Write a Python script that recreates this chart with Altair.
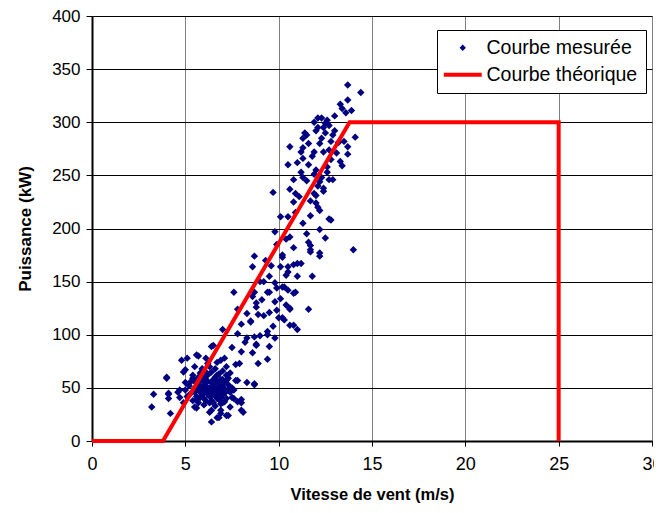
import altair as alt
import pandas as pd

# Measured points: wind speed (m/s), power (kW)
wind = [
    13.7, 14.4, 13.7, 13.3, 13.4, 13.9, 13.6, 13.0, 12.1, 12.3, 12.6, 12.5, 12.7, 12.1, 12.0, 11.4, 12.5, 11.5, 12.9, 14.1,
    11.3, 12.3, 13.5, 12.8, 13.2, 12.2, 10.6, 11.3, 13.7, 12.7, 11.2, 11.9, 13.1, 13.7, 11.3, 13.3, 13.4, 10.5, 11.6, 12.0,
    11.2, 12.6, 11.9, 12.3, 11.3, 10.8, 12.7, 12.9, 12.2, 12.4, 10.6, 9.7, 10.9, 11.9, 12.4, 12.0, 10.8, 11.7, 12.0, 12.1,
    12.2, 11.7, 10.1, 10.5, 12.7, 12.8,
    11.0, 11.8, 12.4, 12.8, 11.5, 12.1, 11.1, 12.6, 13.0, 12.4, 11.9, 11.6, 10.9, 11.3, 9.9, 10.4,
    9.8, 10.6, 11.5, 12.2, 12.5, 11.6, 10.8, 11.7, 11.7, 12.2, 14.0, 8.7, 10.2, 11.7, 12.2, 9.3, 11.0, 10.2, 8.6, 10.1,
    10.5, 10.8, 11.2, 10.5, 10.4, 11.0, 11.8, 9.5, 9.2, 9.8, 9.9, 10.2, 10.3, 10.5, 9.5, 7.6, 8.7, 9.4, 10.8, 10.9,
    8.6, 9.1, 10.1, 9.8, 8.8, 8.8, 7.8, 9.5, 9.9, 10.6, 11.6, 10.6, 8.9, 10.0, 10.2, 10.3, 8.5, 8.5, 10.6, 10.8,
    11.0, 7.0, 7.8, 9.4, 9.4, 8.3, 8.7, 9.0, 9.8, 8.2, 8.8, 9.5, 6.5, 7.5, 8.8, 8.0, 8.6, 9.4, 8.9, 6.4,
    8.0, 9.2, 9.7, 10.4, 8.3, 9.0, 9.6,
    4.8, 5.1, 5.7, 5.6, 6.1, 6.2, 6.7, 7.1, 6.9, 5.5, 5.0, 4.9, 7.2, 7.7, 7.9, 4.0, 4.0, 5.3, 5.7, 7.3,
    7.7, 7.8, 8.3, 8.7, 8.7, 5.0, 3.3, 4.1, 4.1, 4.6, 4.7, 4.7, 4.1, 4.9, 5.5, 5.6, 3.2, 4.2, 6.3, 6.4,
    6.9, 6.9, 7.2, 7.3, 6.4, 6.8, 6.7, 7.4, 7.8, 8.0, 8.1, 8.0, 7.5, 7.6, 8.0, 7.6,
    5.4, 5.6, 5.8, 6.0, 6.2, 6.4, 6.6, 6.8, 7.0, 7.2, 5.5, 5.7, 5.9, 6.1, 6.3, 6.5, 6.7, 6.9, 7.1, 7.3,
    5.3, 5.6, 5.8, 6.0, 6.2, 6.4, 6.6, 6.8, 7.0, 7.2, 5.4, 5.7, 6.0, 6.3, 6.6, 6.9, 7.1, 5.9, 6.5, 6.1,
    5.2, 5.0, 5.1, 6.7, 7.4, 7.0, 6.3, 5.9, 6.6, 7.4, 6.2, 6.8, 6.4, 5.8, 7.5, 6.0, 6.6, 7.1, 5.5, 6.9,
    5.5, 5.7, 5.9, 6.1, 6.3, 6.5, 6.7, 6.9, 7.1, 7.3, 5.6, 5.8, 6.0, 6.2, 6.4, 6.6, 6.8, 7.0, 7.2, 6.1,
    6.5, 6.9, 6.3, 5.9, 6.7, 6.1, 5.4, 7.0, 6.4, 6.8,
]
power = [
    335, 328, 321, 317, 313, 311, 309, 306, 304, 304, 302, 299, 297, 295, 292, 290, 290, 288, 288, 286,
    285, 285, 282, 282, 281, 280, 277, 276, 277, 274, 272, 272, 271, 270, 266, 263, 259, 260, 260, 255,
    253, 253, 251, 248, 248, 246, 246, 246, 244, 238, 237, 234, 233, 233, 235, 231, 225, 226, 224, 220,
    217, 212, 211, 211, 209, 208,
    262, 268, 272, 265, 245, 240, 230, 258, 292, 295, 300, 280, 215, 205, 185, 190,
    197, 192, 195, 199, 191, 187, 182, 184, 180, 177, 180, 174, 173, 178, 174, 170, 167, 175, 164, 164,
    164, 166, 167, 159, 156, 155, 155, 155, 150, 149, 144, 145, 145, 142, 140, 140, 140, 140, 139, 140,
    136, 133, 134, 131, 130, 126, 124, 121, 123, 124, 124, 125, 119, 116, 116, 114, 112, 113, 109, 109,
    105, 105, 101, 103, 100, 97, 98, 99, 97, 93, 91, 89, 90, 88, 90, 84, 83, 77, 73, 89,
    110, 118, 108, 128, 120, 150, 165,
    76, 78, 80, 81, 78, 73, 74, 78, 76, 70, 67, 65, 70, 72, 73, 60, 59, 56, 60, 59,
    57, 57, 55, 53, 54, 55, 44, 45, 44, 46, 41, 48, 40, 36, 32, 31, 32, 26, 27, 29,
    26, 29, 24, 24, 18, 22, 22, 32, 37, 36, 27, 29, 41, 40, 39, 48,
    62, 58, 64, 60, 62, 65, 60, 63, 58, 62, 50, 53, 48, 55, 50, 53, 48, 52, 49, 53,
    45, 42, 46, 40, 44, 38, 43, 39, 44, 40, 38, 36, 34, 36, 33, 35, 37, 57, 46, 47,
    52, 48, 42, 56, 46, 66, 70, 68, 68, 64, 56, 45, 42, 41, 50, 52, 51, 55, 46, 41,
    56, 48, 44, 58, 46, 58, 40, 58, 45, 48, 39, 52, 46, 50, 55, 47, 55, 51, 57, 38,
    36, 47, 42, 61, 62, 65, 59, 36, 49, 50,
]

# Theoretical curve
theo_wind = [0, 3.8, 13.8, 25, 25]
theo_power = [0, 0, 300, 300, 0]

series_names = ["Courbe mesurée", "Courbe théorique"]
series_colors = ["#000080", "#ff0000"]

x_ticks = [0, 5, 10, 15, 20, 25, 30]
y_ticks = [0, 50, 100, 150, 200, 250, 300, 350, 400]

df_pts = pd.DataFrame({"v": wind, "p": power, "serie": series_names[0]})
df_line = pd.DataFrame({"v": theo_wind, "p": theo_power, "serie": series_names[1],
                        "ordre": list(range(len(theo_wind)))})

FONT = "Liberation Sans"

DIAMOND = "M0,-1L1,0L0,1L-1,0Z"
LINE_SYM = "M-6,-0.62H6V0.62H-6Z"

xscale = alt.Scale(domain=[0, 30], nice=False, zero=False)
yscale = alt.Scale(domain=[0, 400], nice=False, zero=False)
cscale = alt.Scale(domain=series_names, range=series_colors)
sscale = alt.Scale(domain=series_names, range=[DIAMOND, LINE_SYM])

legend = alt.Legend(
    title=None, orient="none", legendX=345, legendY=14,
    fillColor="white", strokeColor="#000000", padding=8,
    labelFont=FONT, labelFontSize=19.5, labelColor="#000000",
    rowPadding=6, symbolSize=40, symbolStrokeWidth=0, symbolOpacity=1,
    symbolOffset=8, labelOffset=14,
)

xaxis = alt.Axis(title="Vitesse de vent (m/s)", values=x_ticks, grid=True, gridColor="#808080",
                 gridWidth=1, domainColor="#000000", domainWidth=2, tickColor="#000000", tickSize=5,
                 labelFont=FONT, labelFontSize=18, labelColor="#000000", labelPadding=9,
                 labelFlush=False,
                 titleFont=FONT, titleFontSize=16.5, titleFontWeight="bold", titleColor="#000000",
                 titlePadding=13)
yaxis = alt.Axis(title="Puissance (kW)", values=y_ticks, grid=True, gridColor="#000000",
                 gridWidth=1, domainColor="#000000", domainWidth=2, tickColor="#000000", tickSize=6,
                 labelFont=FONT, labelFontSize=17, labelColor="#000000", labelPadding=6,
                 labelFlush=False,
                 titleFont=FONT, titleFontSize=17, titleFontWeight="bold", titleColor="#000000",
                 titlePadding=17)

points = alt.Chart(df_pts).mark_point(filled=True, size=55, opacity=1).encode(
    x=alt.X("v:Q", scale=xscale, axis=xaxis),
    y=alt.Y("p:Q", scale=yscale, axis=yaxis),
    color=alt.Color("serie:N", scale=cscale, legend=legend),
    shape=alt.Shape("serie:N", scale=sscale, legend=legend),
)

line = alt.Chart(df_line).mark_line(strokeWidth=4, clip=False).encode(
    x=alt.X("v:Q", scale=xscale),
    y=alt.Y("p:Q", scale=yscale),
    color=alt.Color("serie:N", scale=cscale, legend=legend),
    order="ordre:Q",
)

chart = alt.layer(points, line).properties(
    width=560, height=425,
    autosize=alt.AutoSizeParams(type="none"),
    padding={"left": 84, "top": 8, "right": 2, "bottom": 64},
    background="white",
).configure_view(stroke="#808080", strokeWidth=1)

chart.save("out.html", embed_options={"renderer": "svg", "actions": False})
